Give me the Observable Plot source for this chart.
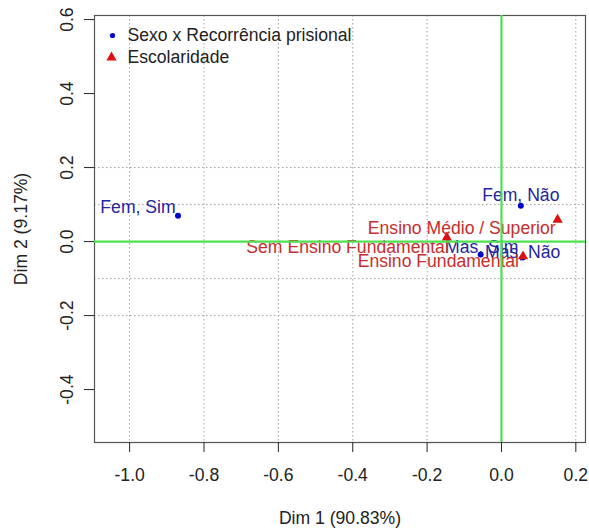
<!DOCTYPE html>
<html>
<head>
<meta charset="utf-8">
<script src="https://cdn.jsdelivr.net/npm/d3@7"></script>
<script src="https://cdn.jsdelivr.net/npm/@observablehq/plot@0.6"></script>
<style>
  html, body { margin: 0; padding: 0; background: #fff; }
  #chart { width: 589px; height: 528px; }
</style>
</head>
<body>
<div id="chart"></div>
<script>
// ---- Data (CA coordinates) ----
const rowNames = ["Fem, Não", "Fem, Sim", "Mas, Não", "Mas, Sim"];
const rowDim1 = [0.052, -0.870, 0.057, -0.056];
const rowDim2 = [0.097, 0.070, -0.043, -0.035];

const colNames = ["Ensino Fundamental", "Ensino Médio / Superior", "Sem Ensino Fundamental"];
const colDim1 = [0.058, 0.151, -0.147];
const colDim2 = [-0.040, 0.059, 0.011];

const xTicks = [-1.0, -0.8, -0.6, -0.4, -0.2, 0.0, 0.2];
const yTicks = [-0.4, -0.2, 0.0, 0.2, 0.4, 0.6];
const yGridLines = [-0.2, -0.1, 0.1, 0.2];

const legendLabels = ["Sexo x Recorrência prisional", "Escolaridade"];
const xTitle = "Dim 1 (90.83%)";
const yTitle = "Dim 2 (9.17%)";

// ---- Layout / style (kept apart from data) ----
const FS = 17.6;
const BLUE_PT = "#0000cc", BLUE_TX = "#25259c";
const RED_PT = "#dd1111", RED_TX = "#c62e2e";
const GREEN = "#4fe04f";
const labelLayout = {
  "Fem, Não": {dx: 0, dy: -10, anchor: "middle"},
  "Fem, Sim": {dx: -40, dy: -8, anchor: "middle"},
  "Mas, Não": {dx: 0, dy: -5, anchor: "middle"},
  "Mas, Sim": {dx: 1, dy: -7, anchor: "middle"},
  "Ensino Fundamental": {dx: -4, dy: 5, anchor: "end"},
  "Ensino Médio / Superior": {dx: -2, dy: 9, anchor: "end"},
  "Sem Ensino Fundamental": {dx: 2, dy: 10, anchor: "end"}
};

const rows = rowNames.map((n, i) => ({name: n, x: rowDim1[i], y: rowDim2[i]}));
const cols = colNames.map((n, i) => ({name: n, x: colDim1[i], y: colDim2[i]}));

const labelMarks = (data, fill) => data.map(d => {
  const L = labelLayout[d.name];
  return Plot.text([d], {x: "x", y: "y", text: "name", fill, dx: L.dx, dy: L.dy, textAnchor: L.anchor, fontSize: FS});
});

const chart = Plot.plot({
  width: 589,
  height: 528,
  marginLeft: 94,
  marginRight: 4,
  marginTop: 15,
  marginBottom: 86,
  style: {fontFamily: "'Liberation Sans', Arial, sans-serif", fontSize: FS + "px", background: "#fff", color: "#222", overflow: "visible"},
  x: {domain: [-1.0945, 0.226]},
  y: {domain: [-0.543, 0.611]},
  marks: [
    Plot.gridX(xTicks, {stroke: "#a0a0a0", strokeOpacity: 1, strokeDasharray: "1.5,2.5"}),
    Plot.gridY(yGridLines, {stroke: "#a0a0a0", strokeOpacity: 1, strokeDasharray: "1.5,2.5"}),
    Plot.frame({stroke: "#555", strokeWidth: 1.2}),
    Plot.axisX(xTicks, {tickSize: 10, tickPadding: 16, tickFormat: d => d.toFixed(1), label: xTitle, labelAnchor: "center", labelArrow: "none", labelOffset: 81, fontSize: FS}),
    Plot.axisY(yTicks, {tickSize: 10, tickPadding: 12, tickRotate: -90, tickFormat: d => d.toFixed(1), label: yTitle, labelAnchor: "center", labelArrow: "none", labelOffset: 80, fontSize: FS}),
    Plot.dot(rows, {x: "x", y: "y", r: 3, fill: BLUE_PT, stroke: null}),
    ...labelMarks(rows, BLUE_TX),
    Plot.dot(cols, {x: "x", y: "y", symbol: "triangle", r: 3.8, fill: RED_PT, stroke: null}),
    ...labelMarks(cols, RED_TX),
    Plot.ruleX([0], {stroke: GREEN, strokeWidth: 2.2}),
    Plot.ruleY([0], {stroke: GREEN, strokeWidth: 2.2}),
    // legend
    Plot.dot([legendLabels[0]], {frameAnchor: "top-left", dx: 18, dy: 20, r: 2.6, fill: BLUE_PT, stroke: null}),
    Plot.dot([legendLabels[1]], {frameAnchor: "top-left", dx: 17, dy: 42, r: 3.8, symbol: "triangle", fill: RED_PT, stroke: null}),
    Plot.text([legendLabels[0]], {frameAnchor: "top-left", dx: 33, dy: 20, lineAnchor: "middle", text: d => d, textAnchor: "start", fill: "#222", fontSize: FS}),
    Plot.text([legendLabels[1]], {frameAnchor: "top-left", dx: 33, dy: 42, lineAnchor: "middle", text: d => d, textAnchor: "start", fill: "#222", fontSize: FS})
  ]
});
document.getElementById("chart").appendChild(chart);
</script>
</body>
</html>
